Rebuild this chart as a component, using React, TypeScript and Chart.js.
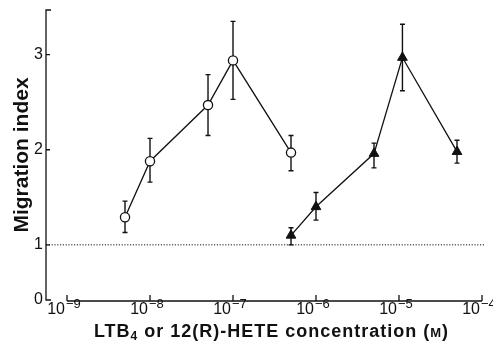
import React, { useEffect, useRef } from "react";
import { Chart, registerables } from "chart.js";

Chart.register(...registerables);

// ---- data ----
const ltb4Conc = [5e-9, 1e-8, 5e-8, 1e-7, 5e-7];
const ltb4Index = [1.29, 1.88, 2.47, 2.94, 1.97];
const ltb4Upper = [1.46, 2.12, 2.79, 3.35, 2.15];
const ltb4Lower = [1.13, 1.66, 2.15, 2.53, 1.78];

const heteConc = [5e-7, 1e-6, 5e-6, 1.1e-5, 5e-5];
const heteIndex = [1.1, 1.4, 1.96, 2.97, 1.98];
const heteUpper = [1.18, 1.55, 2.07, 3.32, 2.1];
const heteLower = [1.0, 1.26, 1.81, 2.62, 1.86];

const xTickExponents = [-9, -8, -7, -6, -5, -4];
const yTickValues = [1, 2, 3];
const yTickLabels = ["0", "1", "2", "3"];
const baselineIndex = 1;
const yAxisBreakMin = 0.42; // broken axis: bottom of axis is labelled "0"
const yAxisMax = 3.47;

// x title pieces: [text, style] where style: n = normal bold, sub = subscript, sc = small caps
const xTitleParts: [string, string][] = [
  ["LTB", "n"],
  ["4", "sub"],
  [" or 12(", "n"],
  ["R", "n"],
  [")-HETE concentration (", "n"],
  ["M", "sc"],
  [")", "n"],
];
const yTitle = "Migration index";

const FONT = "'Liberation Sans', Arial, Helvetica, sans-serif";
const INK = "#111";

const axesPlugin = {
  id: "customAxes",
  beforeDatasetsDraw(chart: any) {
    const { ctx, chartArea, scales } = chart;
    const xs = scales.x;
    const ys = scales.y;
    ctx.save();
    ctx.strokeStyle = INK;
    ctx.lineWidth = 1.3;
    ctx.lineCap = "butt";

    // y axis (offset to the left of the plot)
    const ax = chartArea.left - 21;
    ctx.beginPath();
    ctx.moveTo(ax + 5, chartArea.top);
    ctx.lineTo(ax, chartArea.top);
    ctx.lineTo(ax, chartArea.bottom);
    ctx.lineTo(ax + 5, chartArea.bottom);
    for (const v of yTickValues) {
      const py = ys.getPixelForValue(v);
      ctx.moveTo(ax, py);
      ctx.lineTo(ax + 4, py);
    }
    ctx.stroke();

    // x axis
    const ay = chartArea.bottom + 1;
    const x0 = xs.getPixelForValue(Math.pow(10, xTickExponents[0]));
    const x1 = xs.getPixelForValue(Math.pow(10, xTickExponents[xTickExponents.length - 1]));
    ctx.beginPath();
    ctx.moveTo(x0, ay);
    ctx.lineTo(x1, ay);
    for (const e of xTickExponents) {
      const px = xs.getPixelForValue(Math.pow(10, e));
      ctx.moveTo(px, ay);
      ctx.lineTo(px, ay - 6);
    }
    ctx.stroke();

    // dotted baseline
    ctx.save();
    ctx.lineWidth = 1;
    ctx.setLineDash([1.2, 1.6]);
    const by = ys.getPixelForValue(baselineIndex);
    ctx.beginPath();
    ctx.moveTo(ax, by);
    ctx.lineTo(chartArea.right + 2, by);
    ctx.stroke();
    ctx.restore();

    // error bars
    const drawErr = (xv: number[], lo: number[], hi: number[]) => {
      ctx.beginPath();
      for (let i = 0; i < xv.length; i++) {
        const px = xs.getPixelForValue(xv[i]);
        const pl = ys.getPixelForValue(lo[i]);
        const ph = ys.getPixelForValue(hi[i]);
        ctx.moveTo(px, pl);
        ctx.lineTo(px, ph);
        ctx.moveTo(px - 2.5, pl);
        ctx.lineTo(px + 2.5, pl);
        ctx.moveTo(px - 2.5, ph);
        ctx.lineTo(px + 2.5, ph);
      }
      ctx.stroke();
    };
    ctx.lineWidth = 1.4;
    drawErr(ltb4Conc, ltb4Lower, ltb4Upper);
    drawErr(heteConc, heteLower, heteUpper);

    // x tick labels with superscript exponents
    ctx.fillStyle = INK;
    ctx.textBaseline = "alphabetic";
    ctx.textAlign = "left";
    for (const e of xTickExponents) {
      const px = xs.getPixelForValue(Math.pow(10, e));
      const base = "10";
      const sup = "\u2212" + Math.abs(e);
      ctx.font = `16px ${FONT}`;
      const w1 = ctx.measureText(base).width;
      ctx.font = `13px ${FONT}`;
      const w2 = ctx.measureText(sup).width;
      const gap = 1;
      const start = px - (w1 + gap + w2) / 2 - 3;
      ctx.font = `16px ${FONT}`;
      ctx.fillText(base, start, ay + 13);
      ctx.font = `13px ${FONT}`;
      ctx.fillText(sup, start + w1 + gap, ay + 7);
    }

    // x axis title
    const fontFor = (style: string) =>
      style === "n" ? `bold 18px ${FONT}` : style === "sub" ? `bold 12px ${FONT}` : `bold 13px ${FONT}`;
    (ctx as any).letterSpacing = "1px";
    let total = 0;
    for (const [t, st] of xTitleParts) {
      ctx.font = fontFor(st);
      total += ctx.measureText(t).width;
    }
    let tx = (chartArea.left + chartArea.right) / 2 - total / 2 - 3;
    const tBase = 337;
    for (const [t, st] of xTitleParts) {
      ctx.font = fontFor(st);
      ctx.fillText(t, tx, st === "sub" ? tBase + 3 : tBase);
      tx += ctx.measureText(t).width;
    }
    (ctx as any).letterSpacing = "0px";
    ctx.restore();
  },
};

export default function App() {
  const ref = useRef<HTMLCanvasElement | null>(null);

  useEffect(() => {
    document.body.style.margin = "0";
    const canvas = ref.current;
    if (!canvas) return;
    const chart = new Chart(canvas, {
      type: "line",
      data: {
        datasets: [
          {
            label: "LTB4",
            data: ltb4Conc.map((x, i) => ({ x, y: ltb4Index[i] })),
            borderColor: INK,
            borderWidth: 1.3,
            backgroundColor: "#fff",
            pointBackgroundColor: "#fff",
            pointBorderColor: INK,
            pointBorderWidth: 1.3,
            pointStyle: "circle",
            pointRadius: 4.6,
            tension: 0,
          },
          {
            label: "12(R)-HETE",
            data: heteConc.map((x, i) => ({ x, y: heteIndex[i] })),
            borderColor: INK,
            borderWidth: 1.3,
            backgroundColor: INK,
            pointBackgroundColor: INK,
            pointBorderColor: INK,
            pointBorderWidth: 1,
            pointStyle: "triangle",
            pointRadius: 5.6,
            tension: 0,
          },
        ],
      },
      options: {
        animation: false,
        responsive: false,
        events: [],
        layout: { padding: { top: 10, right: 11, left: 0, bottom: 0 } },
        plugins: {
          legend: { display: false },
          tooltip: { enabled: false },
        },
        scales: {
          x: {
            type: "logarithmic",
            min: Math.pow(10, xTickExponents[0]),
            max: Math.pow(10, xTickExponents[xTickExponents.length - 1]),
            grid: { display: false, drawTicks: false },
            border: { display: false },
            ticks: { display: false },
            title: { display: false },
            afterFit: (s: any) => {
              s.height = 47;
              s.paddingLeft = 0;
              s.paddingRight = 0;
            },
          },
          y: {
            type: "linear",
            min: yAxisBreakMin,
            max: yAxisMax,
            grid: { display: false, drawTicks: false },
            border: { display: false },
            afterBuildTicks: (s: any) => {
              s.ticks = [yAxisBreakMin, ...yTickValues].map((v) => ({ value: v }));
            },
            ticks: {
              color: INK,
              padding: 24,
              font: { family: FONT, size: 16 },
              callback: (_v: any, i: number) => yTickLabels[i],
            },
            title: {
              display: true,
              text: yTitle,
              color: INK,
              font: { family: FONT, size: 21, weight: "bold" },
              padding: { top: 10, bottom: 0 },
            },
            afterFit: (s: any) => {
              s.width = 67;
              s.paddingTop = 0;
              s.paddingBottom = 0;
            },
          },
        },
      },
      plugins: [axesPlugin],
    } as any);
    return () => chart.destroy();
  }, []);

  return (
    <div style={{ width: 493, height: 347, background: "#fff" }}>
      <canvas ref={ref} width={493} height={347} style={{ display: "block" }} />
    </div>
  );
}
